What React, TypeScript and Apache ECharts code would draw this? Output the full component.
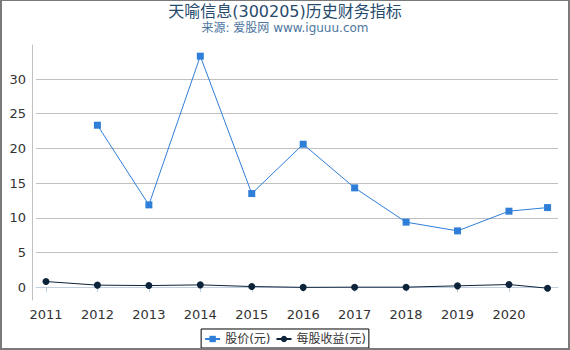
import React, { useEffect, useRef } from "react";
import * as echarts from "echarts";

const years = [2011, 2012, 2013, 2014, 2015, 2016, 2017, 2018, 2019, 2020, 2020.75];
const priceValues: (number | null)[] = [null, 23.34, 11.86, 33.29, 13.49, 20.6, 14.31, 9.37, 8.11, 10.95, 11.47];
const epsValues = [0.81, 0.29, 0.23, 0.33, 0.09, -0.03, 0.0, 0.0, 0.19, 0.38, -0.15];
const xTickLabels = [2011, 2012, 2013, 2014, 2015, 2016, 2017, 2018, 2019, 2020];
const yTickLabels = [0, 5, 10, 15, 20, 25, 30];

const FONT = "DejaVu Sans, Noto Sans CJK SC, sans-serif";

export default function App() {
  const ref = useRef<HTMLDivElement>(null);
  useEffect(() => {
    document.body.style.margin = "0";
    const chart = echarts.init(ref.current!, null, { renderer: "svg" });
    chart.setOption({
      animation: false,
      textStyle: { fontFamily: FONT },
      title: {
        text: "天喻信息(300205)历史财务指标",
        subtext: "来源: 爱股网 www.iguuu.com",
        left: "center",
        top: -2,
        itemGap: 3,
        textStyle: { fontFamily: FONT, fontSize: 16, fontWeight: "normal", color: "#274b6d" },
        subtextStyle: { fontFamily: FONT, fontSize: 12, color: "#4d759e" },
      },
      legend: {
        bottom: 2,
        left: "center",
        borderColor: "#000",
        borderWidth: 1,
        borderRadius: 0,
        padding: [4, 3, 3, 3],
        itemGap: 5,
        itemWidth: 15,
        itemHeight: 8,
        textStyle: { fontFamily: FONT, fontSize: 12, color: "#333" },
        data: ["股价(元)", "每股收益(元)"],
      },
      grid: { left: 36, right: 12, top: 45, bottom: 50, containLabel: false },
      xAxis: {
        type: "value",
        min: 2010.806,
        max: 2020.953,
        offset: 4,
        axisLine: { show: true, lineStyle: { color: "#c0d0e0", width: 1 } },
        axisTick: { show: true, length: 5, customValues: xTickLabels, lineStyle: { color: "#c0d0e0" } },
        axisLabel: {
          customValues: xTickLabels,
          margin: 4,
          fontSize: 13,
          color: "#333",
          fontFamily: FONT,
          formatter: (v: number) => String(Math.round(v)),
        },
        splitLine: { show: false },
      },
      yAxis: {
        type: "value",
        min: -1.85,
        max: 34.9,
        offset: 4,
        axisLine: { show: true, lineStyle: { color: "#c0c0c0", width: 1 } },
        axisTick: { show: false, customValues: yTickLabels },
        axisLabel: { customValues: yTickLabels, margin: 6, fontSize: 13, color: "#333", fontFamily: FONT },
        splitLine: { show: true, lineStyle: { color: "#c0c0c0", width: 1 } },
      },
      series: [
        {
          name: "股价(元)",
          type: "line",
          data: years.map((y, i) => [y, priceValues[i]]),
          connectNulls: false,
          symbol: "rect",
          symbolSize: 7,
          itemStyle: { color: "#2f7ed8" },
          lineStyle: { color: "#2f7ed8", width: 1 },
        },
        {
          name: "每股收益(元)",
          type: "line",
          data: years.map((y, i) => [y, epsValues[i]]),
          symbol: "circle",
          symbolSize: 7,
          itemStyle: { color: "#0d233a" },
          lineStyle: { color: "#0d233a", width: 1 },
        },
      ],
    });
    return () => chart.dispose();
  }, []);
  return (
    <div style={{ position: "relative", width: 570, height: 350, background: "#fff" }}>
      <div ref={ref} style={{ position: "absolute", left: 0, top: 0, width: 570, height: 350 }} />
      <div
        style={{
          position: "absolute",
          left: 0,
          top: 0,
          width: 570,
          height: 350,
          boxSizing: "border-box",
          borderTop: "1px solid #7a7a7a",
          borderLeft: "2px solid #7a7a7a",
          borderRight: "2px solid #7a7a7a",
          borderBottom: "2px solid #7a7a7a",
          pointerEvents: "none",
        }}
      />
    </div>
  );
}
